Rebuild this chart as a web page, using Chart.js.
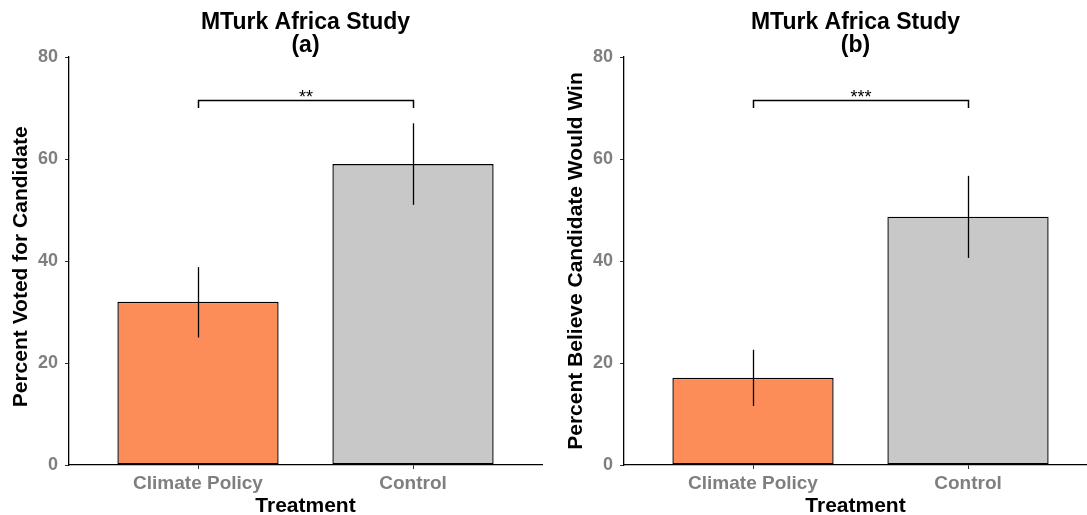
<!DOCTYPE html>
<html>
<head>
<meta charset="utf-8">
<script src="https://cdn.jsdelivr.net/npm/chart.js@4/dist/chart.umd.min.js"></script>
<style>
  html, body { margin: 0; padding: 0; background: #ffffff; }
  #wrap { position: relative; width: 1087px; height: 515px; overflow: hidden; }
  .panel { position: absolute; top: 0; height: 515px; }
  #p1 { left: 0; width: 555px; }
  #p2 { left: 555px; width: 532px; }
</style>
</head>
<body>
<div id="wrap">
  <div class="panel" id="p1"><canvas id="c1"></canvas></div>
  <div class="panel" id="p2"><canvas id="c2"></canvas></div>
</div>
<script>
// ---- data ----
const categories = ["Climate Policy", "Control"];
const yTicks = [0, 20, 40, 60, 80];

const votedMean = [32, 59];
const votedLow  = [25, 51];
const votedHigh = [38.8, 67];

const winMean = [17.1, 48.7];
const winLow  = [11.6, 40.6];
const winHigh = [22.6, 56.7];

const bracketLevel = [71.5, 71.5];
const bracketFoot  = [70, 70];
const sigLabels = ["**", "***"];

const panelTitles = [["MTurk Africa Study", "(a)"], ["MTurk Africa Study", "(b)"]];
const yTitles = ["Percent Voted for Candidate  ", "Percent Believe Candidate Would Win"];
const xTitle = "Treatment";

const barColors = ["#FC8D59", "#C8C8C8"];
const FONT = "'Liberation Sans', Arial, Helvetica, sans-serif";

const annotPlugin = {
  id: 'annot',
  afterDatasetsDraw(chart, args, opts) {
    const ctx = chart.ctx;
    const xs = chart.scales.x, ys = chart.scales.y;
    ctx.save();
    ctx.strokeStyle = '#000';
    ctx.lineWidth = 1.3;
    // error bars
    for (let i = 0; i < opts.low.length; i++) {
      const px = Math.round(xs.getPixelForValue(i + 1)) + 0.5;
      ctx.beginPath();
      ctx.moveTo(px, ys.getPixelForValue(opts.low[i]));
      ctx.lineTo(px, ys.getPixelForValue(opts.high[i]));
      ctx.stroke();
    }
    // bracket
    const x1 = Math.round(xs.getPixelForValue(1)) + 0.5;
    const x2 = Math.round(xs.getPixelForValue(2)) + 0.5;
    const yb = Math.round(ys.getPixelForValue(opts.level)) + 0.5;
    const yf = ys.getPixelForValue(opts.foot);
    ctx.lineWidth = 1.5;
    ctx.beginPath();
    ctx.moveTo(x1, yf);
    ctx.lineTo(x1, yb);
    ctx.lineTo(x2, yb);
    ctx.lineTo(x2, yf);
    ctx.stroke();
    ctx.fillStyle = '#000';
    ctx.font = "18px " + FONT;
    ctx.textAlign = 'center';
    ctx.textBaseline = 'alphabetic';
    ctx.fillText(opts.label, (x1 + x2) / 2, yb + 2);
    ctx.restore();
  }
};

function makeChart(id, means, low, high, idx, xmax, rightPad) {
  const data = means.map((v, i) => ({ x: i + 1, y: v }));
  return new Chart(document.getElementById(id), {
    type: 'bar',
    data: {
      datasets: [{
        data: data,
        backgroundColor: barColors,
        borderColor: '#000',
        borderWidth: 1.4,
        borderSkipped: false,
        categoryPercentage: 1.0,
        barPercentage: 0.75
      }]
    },
    options: {
      responsive: true,
      maintainAspectRatio: false,
      animation: false,
      devicePixelRatio: 1,
      layout: { padding: { left: 0, right: rightPad, top: 0, bottom: 0 } },
      plugins: {
        legend: { display: false },
        tooltip: { enabled: false },
        title: {
          display: true,
          fullSize: false,
          text: panelTitles[idx],
          color: '#000',
          font: { family: FONT, size: 23, weight: 'bold', lineHeight: 1.0 },
          padding: { top: 11, bottom: 0 }
        },
        annot: { low: low, high: high, level: bracketLevel[idx], foot: bracketFoot[idx], label: sigLabels[idx] }
      },
      scales: {
        x: {
          type: 'linear',
          min: 0.4,
          max: xmax,
          offset: false,
          afterFit(scale) { scale.height = 50; },
          afterBuildTicks(scale) { scale.ticks = categories.map((c, i) => ({ value: i + 1 })); },
          ticks: {
            autoSkip: false,
            maxRotation: 0,
            padding: 3,
            color: '#7F7F7F',
            font: { family: FONT, size: 19, weight: 'bold' },
            callback: (v) => categories[v - 1]
          },
          grid: { display: true, offset: false, drawOnChartArea: false, drawTicks: true, tickLength: 4, color: '#333', lineWidth: 1 },
          border: { display: true, color: '#000', width: 1.3 },
          title: {
            display: true, text: xTitle, color: '#000',
            font: { family: FONT, size: 21, weight: 'bold', lineHeight: 0.8 },
            padding: 0
          }
        },
        y: {
          type: 'linear',
          min: 0,
          max: 80,
          afterFit(scale) { scale.width = 69; },
          afterBuildTicks(scale) { scale.ticks = yTicks.map(v => ({ value: v })); },
          ticks: {
            padding: 7,
            color: '#7F7F7F',
            font: { family: FONT, size: 18, weight: 'bold' }
          },
          grid: { display: true, offset: false, drawOnChartArea: false, drawTicks: true, tickLength: 4, color: '#333', lineWidth: 1 },
          border: { display: true, color: '#000', width: 1.3 },
          title: {
            display: true, text: yTitles[idx], color: '#000',
            font: { family: FONT, size: 21, weight: 'bold', lineHeight: 1 },
            padding: 11
          }
        }
      }
    },
    plugins: [annotPlugin]
  });
}

makeChart('c1', votedMean, votedLow, votedHigh, 0, 2.6, 13);
makeChart('c2', winMean, winLow, winHigh, 1, 0.4 + (532 - 69) / 215, 0);
</script>
</body>
</html>
